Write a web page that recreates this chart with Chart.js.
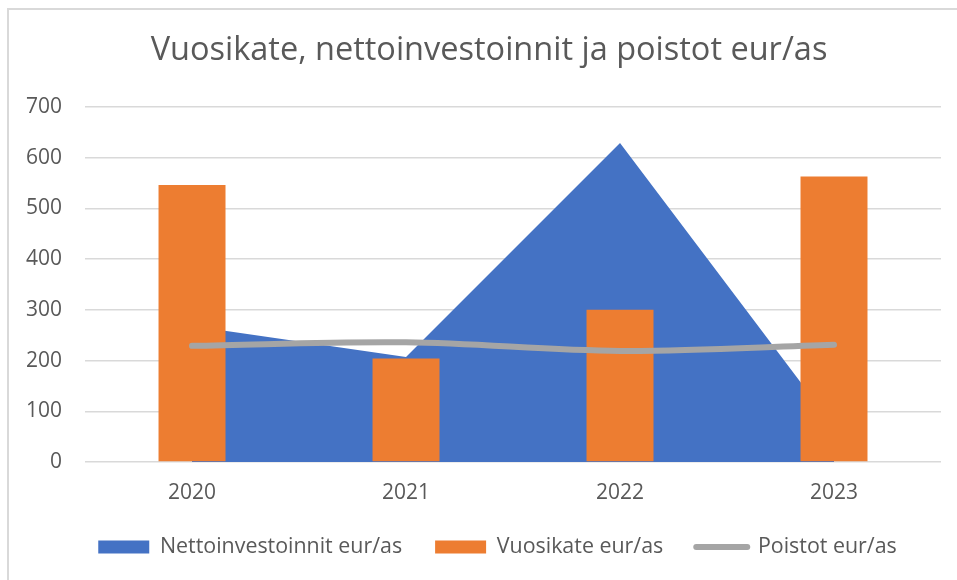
<!DOCTYPE html>
<html>
<head>
<meta charset="utf-8">
<script src="https://cdn.jsdelivr.net/npm/chart.js@4.4.1/dist/chart.umd.min.js"></script>
<style>
  html, body { margin: 0; padding: 0; background: #ffffff; }
  #wrap { position: relative; width: 957px; height: 580px; overflow: hidden; }
  #frame { position: absolute; left: 7px; top: 8px; width: 1000px; height: 700px; border: 2px solid #d9d9d9; box-sizing: border-box; }
  canvas { position: absolute; left: 0; top: 0; }
</style>
</head>
<body>
<div id="wrap">
  <div id="frame"></div>
  <canvas id="c" width="957" height="580"></canvas>
</div>
<script>
const categories = ['2020', '2021', '2022', '2023'];
const nettoinvestoinnit = [268, 207, 629, 70];
const vuosikate = [546, 204, 300, 563];
const poistot = [229, 236, 219, 231];
const seriesNames = ['Nettoinvestoinnit eur/as', 'Vuosikate eur/as', 'Poistot eur/as'];
const yTicks = [0, 100, 200, 300, 400, 500, 600, 700];

const textColor = '#595959';
const fontFamily = '"Open Sans", Lato, sans-serif';

const boxMover = {
  id: 'boxMover',
  afterLayout(chart) {
    const lg = chart.legend;
    if (lg) {
      const h = lg.height;
      lg.top = 503.3;
      lg.bottom = lg.top + h;
      lg.left += 25.5;
      lg.right += 25.5;
    }
    const tb = chart.titleBlock;
    if (tb) {
      tb.left += 17;
      tb.right += 17;
    }
  }
};

new Chart(document.getElementById('c'), {
  type: 'bar',
  data: {
    labels: categories,
    datasets: [
      {
        type: 'line',
        label: seriesNames[0],
        data: nettoinvestoinnit,
        backgroundColor: '#4472C4',
        borderColor: '#4472C4',
        borderWidth: 0,
        fill: 'origin',
        tension: 0,
        pointRadius: 0,
        order: 3
      },
      {
        type: 'bar',
        label: seriesNames[1],
        data: vuosikate,
        backgroundColor: '#ED7D31',
        borderWidth: 0,
        categoryPercentage: 1,
        barPercentage: 0.313,
        order: 2
      },
      {
        type: 'line',
        label: seriesNames[2],
        data: poistot,
        borderColor: '#A5A5A5',
        backgroundColor: '#A5A5A5',
        borderWidth: 6,
        borderCapStyle: 'round',
        fill: false,
        tension: 0.35,
        pointRadius: 0,
        order: 1
      }
    ]
  },
  plugins: [boxMover],
  options: {
    responsive: false,
    animation: false,
    devicePixelRatio: 1,
    layout: { padding: { left: 3, right: 16, top: 0, bottom: 0 } },
    plugins: {
      title: {
        display: true,
        text: 'Vuosikate, nettoinvestoinnit ja poistot eur/as',
        color: textColor,
        font: { family: fontFamily, size: 32.5, weight: 'normal' },
        padding: { top: 31.5, bottom: 36.5 }
      },
      legend: {
        position: 'bottom',
        maxHeight: 56.8,
        labels: {
          color: textColor,
          font: { family: fontFamily, size: 21.4 },
          usePointStyle: true,
          pointStyleWidth: 51,
          boxHeight: 13,
          padding: 33,
          generateLabels: function(chart) {
            return chart.data.datasets.map(function(ds, i) {
              const isLine = i === 2;
              return {
                text: ds.label,
                fillStyle: isLine ? '#A5A5A5' : ds.backgroundColor,
                strokeStyle: isLine ? '#A5A5A5' : ds.backgroundColor,
                lineWidth: isLine ? 6 : 0,
                lineCap: 'round',
                pointStyle: isLine ? 'line' : 'rect',
                fontColor: textColor,
                hidden: false,
                datasetIndex: i
              };
            });
          }
        }
      },
      tooltip: { enabled: false }
    },
    scales: {
      x: {
        offset: true,
        grid: { display: false, drawTicks: false },
        border: { display: false },
        ticks: { color: textColor, font: { family: fontFamily, size: 21 }, padding: 18 }
      },
      y: {
        min: 0,
        max: 700,
        afterBuildTicks: function(axis) { axis.ticks = yTicks.map(v => ({ value: v })); },
        grid: { color: '#d9d9d9', lineWidth: 1.5, drawTicks: false },
        border: { display: false },
        ticks: { color: textColor, font: { family: fontFamily, size: 21 }, padding: 23 }
      }
    }
  }
});
</script>
</body>
</html>
